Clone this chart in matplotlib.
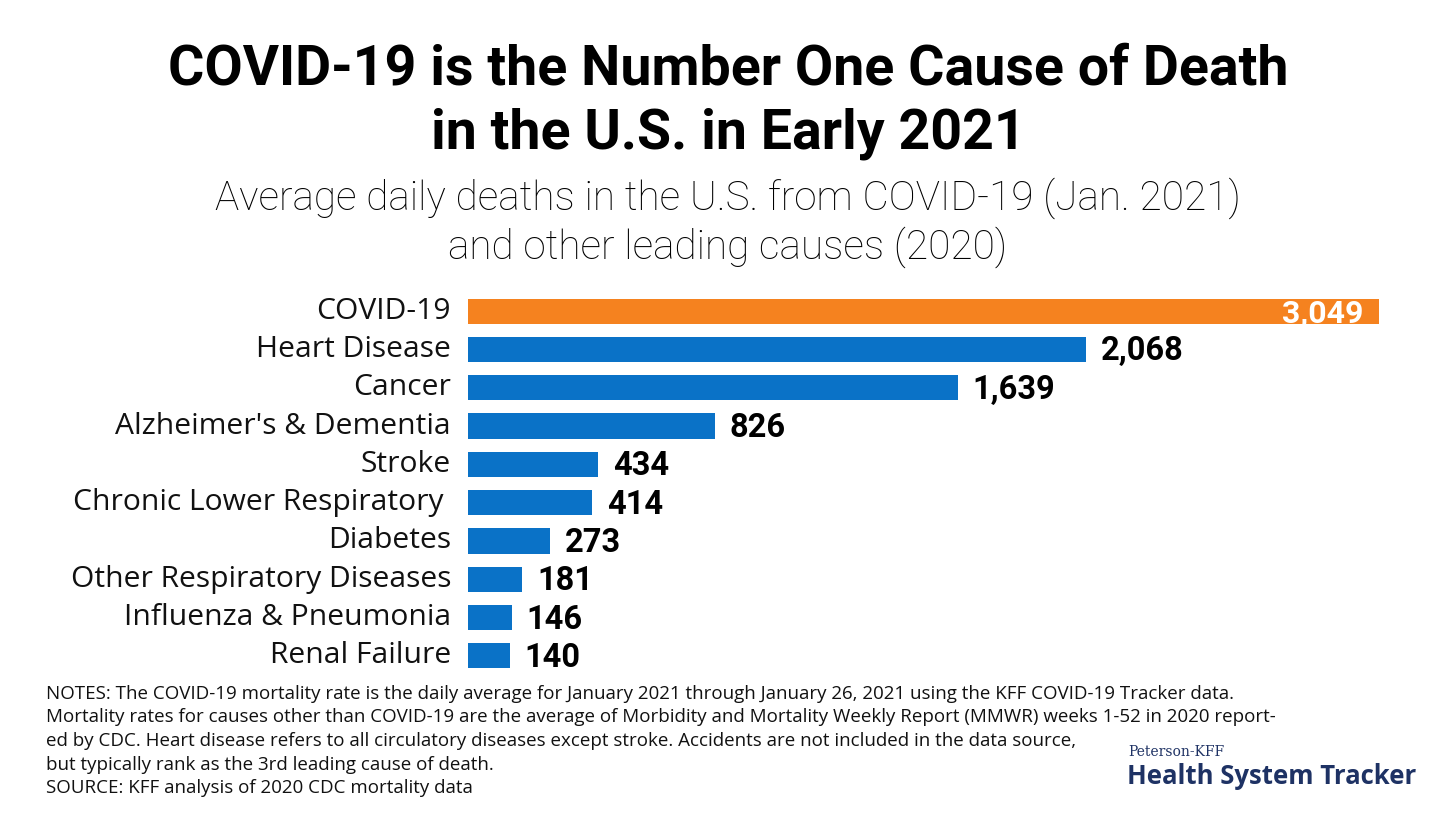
import matplotlib
matplotlib.use("Agg")
import matplotlib.pyplot as plt

# data
causes = [
    "COVID-19",
    "Heart Disease",
    "Cancer",
    "Alzheimer's & Dementia",
    "Stroke",
    "Chronic Lower Respiratory ",
    "Diabetes",
    "Other Respiratory Diseases",
    "Influenza & Pneumonia",
    "Renal Failure",
]
daily_deaths = [3049, 2068, 1639, 826, 434, 414, 273, 181, 146, 140]

title = "COVID-19 is the Number One Cause of Death\nin the U.S. in Early 2021"
subtitle = "Average daily deaths in the U.S. from COVID-19 (Jan. 2021)\nand other leading causes (2020)"
notes = [
    "NOTES: The COVID-19 mortality rate is the daily average for January 2021 through January 26, 2021 using the KFF COVID-19 Tracker data.",
    "Mortality rates for causes other than COVID-19 are the average of Morbidity and Mortality Weekly Report (MMWR) weeks 1-52 in 2020 report-",
    "ed by CDC. Heart disease refers to all circulatory diseases except stroke. Accidents are not included in the data source,",
    "but typically rank as the 3rd leading cause of death.",
    "SOURCE: KFF analysis of 2020 CDC mortality data",
]

ORANGE = "#f5821f"
BLUE = "#0a72c7"
NAVY = "#1e3264"

W, H = 1456, 817
fig = plt.figure(figsize=(W / 100, H / 100), dpi=100)
fig.patch.set_facecolor("white")

# axes placed in pixel terms: bars start at x=468, 3,049 ends at x=1379
left, right = 468, 1379
top, bottom = 292, 675
ax = fig.add_axes([left / W, 1 - bottom / H, (right - left) / W, (bottom - top) / H])

ypos = list(range(len(causes)))
colors = [ORANGE] + [BLUE] * (len(causes) - 1)
ax.barh(ypos, daily_deaths, height=0.66, color=colors)
ax.set_xlim(0, daily_deaths[0])
ax.set_ylim(len(causes) - 0.5, -0.5)
ax.axis("off")

for y, (name, v) in enumerate(zip(causes, daily_deaths)):
    ax.annotate(name, xy=(0, y), xytext=(-17, 0), textcoords="offset pixels",
                ha="right", va="center", fontsize=21.6, family="Open Sans", color="#111111")
    if y == 0:
        ax.annotate(f"{v:,}", xy=(v, y), xytext=(-16, -2), textcoords="offset pixels",
                    ha="right", va="center", fontsize=23, family="Roboto",
                    fontweight="bold", color="white")
    else:
        ax.annotate(f"{v:,}", xy=(v, y), xytext=(15, -2), textcoords="offset pixels",
                    ha="left", va="center", fontsize=23.5, family="Roboto",
                    fontweight="bold", color="black")

fig.text(0.5, 1 - 102 / H, title, ha="center", va="center", fontsize=40,
         family="Roboto", fontweight="bold", linespacing=1.3)
fig.text(0.5, 1 - 223 / H, subtitle, ha="center", va="center", fontsize=29.2,
         family="Roboto", fontweight="light", linespacing=1.22)

for i, line in enumerate(notes):
    fig.text(46 / W, 1 - (694 + i * 23.5) / H, line, ha="left", va="center",
             fontsize=13.5, family="Open Sans", color="#111111")

fig.text(1128 / W, 1 - 752 / H, "Peterson-KFF", ha="left", va="center",
         fontsize=10, family="DejaVu Serif", color=NAVY)
fig.text(1127 / W, 1 - 776 / H, "Health System Tracker", ha="left", va="center",
         fontsize=18.5, family="Open Sans", fontweight="bold", color=NAVY)

fig.savefig("out.png", dpi=100, facecolor="white")
